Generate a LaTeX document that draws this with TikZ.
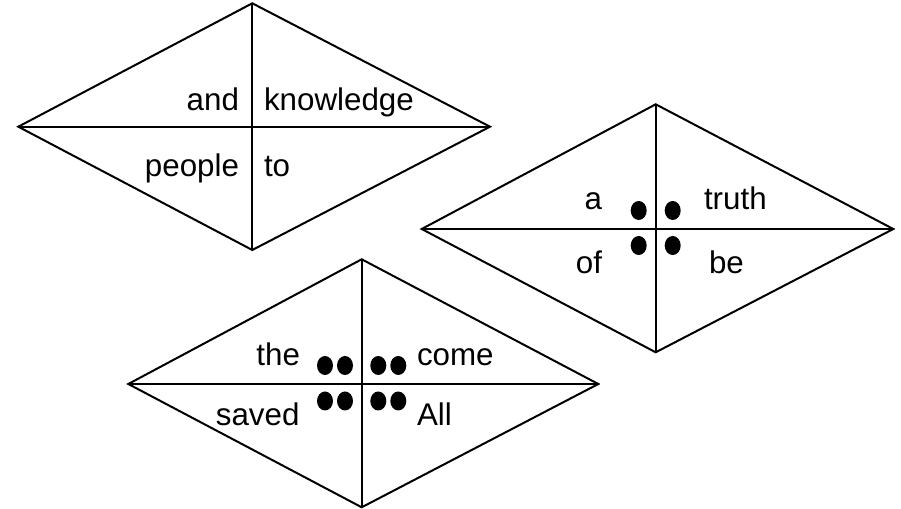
\documentclass[tikz,border=0pt]{standalone}
\usepackage{fontspec}
\setmainfont{Liberation Sans}

\tikzset{every picture/.style={line width=1.5pt}}
\tikzset{word/.style={inner sep=0pt, font=\fontsize{23.5}{27}\selectfont}}

\begin{document}
\begin{tikzpicture}[x=0.75pt,y=0.75pt,yscale=-1,xscale=1]
\useasboundingbox (0,0) rectangle (901,509);

%Shape: Diamond [id:upper card]
\coordinate (t1) at (252.3,3.3);
\coordinate (l1) at (18.3,126.7);
\coordinate (r1) at (490,126.7);
\coordinate (b1) at (252.3,250);
\draw (l1) -- (t1) -- (r1) -- (b1) -- cycle ;
\draw (l1) -- (r1) ;
\draw (t1) -- (b1) ;

%Shape: Diamond [id:right card]
\coordinate (t2) at (655.7,104.3);
\coordinate (l2) at (421.7,229);
\coordinate (r2) at (893.3,229);
\coordinate (b2) at (655.7,352.3);
\draw (l2) -- (t2) -- (r2) -- (b2) -- cycle ;
\draw (l2) -- (r2) ;
\draw (t2) -- (b2) ;

%Shape: Diamond [id:lower card]
\coordinate (t3) at (361.7,259.3);
\coordinate (l3) at (128.3,384);
\coordinate (r3) at (598.3,384);
\coordinate (b3) at (361.7,507.3);
\draw (l3) -- (t3) -- (r3) -- (b3) -- cycle ;
\draw (l3) -- (r3) ;
\draw (t3) -- (b3) ;

%Shape: Dots [id:right card]
\fill (638.7,210.5) ellipse (8 and 9.5) ;
\fill (672.7,210.5) ellipse (8 and 9.5) ;
\fill (638.7,245.5) ellipse (8 and 9.5) ;
\fill (672.7,245.5) ellipse (8 and 9.5) ;

%Shape: Dots [id:lower card]
\fill (325,365.5) ellipse (8 and 9.5) ;
\fill (345,365.5) ellipse (8 and 9.5) ;
\fill (378.3,365.5) ellipse (8 and 9.5) ;
\fill (398.3,365.5) ellipse (8 and 9.5) ;
\fill (325,401) ellipse (8 and 9.5) ;
\fill (345,401) ellipse (8 and 9.5) ;
\fill (378.3,401) ellipse (8 and 9.5) ;
\fill (398.3,401) ellipse (8 and 9.5) ;


% Text Node
\node (and) [word, anchor=base east] at (240,110.7) {and};
% Text Node
\node (knowledge) [word, anchor=base west] at (263,110.7) {knowledge};
% Text Node
\node (people) [word, anchor=base east] at (240,177) {people};
% Text Node
\node (to) [word, anchor=base west] at (263,177) {to};
% Text Node
\node (a) [word, anchor=base east] at (603,210) {a};
% Text Node
\node (truth) [word, anchor=base west] at (703,210) {truth};
% Text Node
\node (of) [word, anchor=base east] at (603,273.3) {of};
% Text Node
\node (be) [word, anchor=base west] at (708,273.3) {be};
% Text Node
\node (the) [word, anchor=base east] at (301,366) {the};
% Text Node
\node (come) [word, anchor=base west] at (416,366) {come};
% Text Node
\node (saved) [word, anchor=base east] at (300.5,426) {saved};
% Text Node
\node (All) [word, anchor=base west] at (416,426) {All};


\end{tikzpicture}
\end{document}
